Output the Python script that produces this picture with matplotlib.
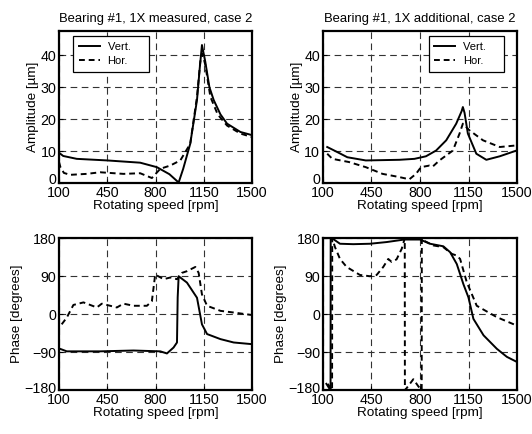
import matplotlib
matplotlib.use("Agg")
import matplotlib.pyplot as plt
import matplotlib.transforms as mtransforms

plt.rcParams['font.family'] = ['Liberation Sans', 'DejaVu Sans']

# --- amplitude, measured (top left) ---
amp_meas_v_rpm = [100, 130, 228, 450, 688, 809, 900, 967, 1000, 1051, 1100, 1120, 1136, 1160, 1190, 1221, 1270, 1318, 1415, 1500]
amp_meas_v = [9.5, 8.5, 7.6, 7.1, 6.4, 5.0, 2.8, 0.2, 4.5, 12.3, 26.0, 36.0, 43.2, 38.0, 30.0, 26.0, 21.5, 18.6, 16.0, 15.0]
amp_meas_h_rpm = [100, 110, 135, 180, 300, 398, 567, 688, 773, 834, 906, 979, 1051, 1100, 1124, 1140, 1160, 1197, 1250, 1318, 1415, 1500]
amp_meas_h = [6.6, 5.0, 3.2, 2.6, 2.9, 3.4, 2.9, 3.1, 1.6, 4.5, 5.5, 7.1, 12.3, 27.0, 38.0, 40.5, 37.0, 27.0, 21.5, 18.0, 15.5, 14.4]

# --- amplitude, additional (top right) ---
amp_add_v_rpm = [131, 200, 276, 409, 651, 760, 843, 916, 989, 1061, 1100, 1109, 1121, 1145, 1206, 1278, 1375, 1496]
amp_add_v = [11.3, 9.8, 8.1, 7.1, 7.3, 7.6, 8.4, 10.2, 13.4, 18.6, 22.5, 23.8, 22.0, 15.5, 9.2, 7.3, 8.4, 10.2]
amp_add_h_rpm = [131, 168, 288, 409, 530, 651, 723, 771, 807, 868, 892, 940, 1037, 1085, 1109, 1157, 1254, 1375, 1496]
amp_add_h = [9.2, 7.6, 6.6, 5.0, 2.9, 1.9, 1.2, 2.9, 5.0, 5.5, 5.2, 7.1, 10.2, 15.5, 18.6, 16.5, 13.4, 11.3, 11.8]

# --- phase, measured (bottom left) ---
ph_meas_v_rpm = [107, 156, 398, 640, 834, 882, 930, 955, 960, 967, 1027, 1100, 1136, 1173, 1270, 1366, 1500]
ph_meas_v = [-82, -88, -88, -86, -88, -93, -79, -67, 40, 90, 75, 39, -24, -47, -59, -67, -71]
ph_meas_h_rpm = [119, 156, 204, 277, 374, 410, 519, 567, 640, 737, 773, 797, 858, 906, 955, 991, 1027, 1088, 1112, 1136, 1173, 1270, 1366, 1500]
ph_meas_h = [-24, -8, 22, 28, 16, 25, 16, 25, 20, 20, 31, 94, 83, 87, 83, 98, 102, 112, 98, 47, 20, 8, 4, -2]

# --- phase, additional (bottom right), wraps at +/-180 ---
ph_add_v_rpm = [125, 150, 155, 156, 175, 223, 319, 439, 559, 687, 800, 872, 968, 1017, 1065, 1113, 1149, 1185, 1258, 1354, 1426, 1498]
ph_add_v = [-165, -178, -180, 180, 178, 167, 166, 167, 171, 177, 177, 167, 161, 147, 119, 71, 40, -11, -50, -82, -101, -113]
ph_add_h_rpm = [135, 160, 166, 167, 187, 223, 271, 367, 439, 487, 535, 571, 595, 631, 668, 690, 691, 704, 752, 788, 812, 813, 824, 896, 968, 1029, 1065, 1089, 1137, 1209, 1354, 1498]
ph_add_h = [-165, -178, -180, 180, 159, 131, 112, 93, 90, 93, 112, 131, 124, 130, 155, 180, -180, -175, -154, -171, -180, 180, 175, 163, 159, 143, 139, 131, 76, 20, -7, -27]

rpm_ticks = [100, 450, 800, 1150, 1500]
amp_ticks = [0, 10, 20, 30, 40]
phase_ticks = [-180, -90, 0, 90, 180]

titles = ["Bearing #1, 1X measured, case 2", "Bearing #1, 1X additional, case 2"]


def style_axes(ax):
    ax.set_xlim(100, 1500)
    ax.set_xticks(rpm_ticks)
    ax.set_xlabel("Rotating speed [rpm]", fontsize=9.7, labelpad=0)
    ax.grid(True, color='0.2', linestyle=(0, (6, 4)), linewidth=0.8)
    ax.tick_params(direction='in', length=3, labelsize=10.3, pad=2, width=0.8)
    for s in ax.spines.values():
        s.set_linewidth(1.6)


def lift_bottom_label(ax, px):
    # nudge the lowest y tick label up so it clears the first x tick label
    fig.canvas.draw()
    lab = ax.get_yticklabels()[0]
    lab.set_transform(lab.get_transform() +
                      mtransforms.ScaledTranslation(0, px / 100, fig.dpi_scale_trans))


fig = plt.figure(figsize=(5.32, 4.34), dpi=100)
ax1 = fig.add_axes([0.111, 0.578, 0.363, 0.350])
ax2 = fig.add_axes([0.607, 0.578, 0.365, 0.350])
ax3 = fig.add_axes([0.111, 0.101, 0.363, 0.350])
ax4 = fig.add_axes([0.607, 0.101, 0.365, 0.350])

ax1.plot(amp_meas_v_rpm, amp_meas_v, 'k-', lw=1.4, label="Vert.    ")
ax1.plot(amp_meas_h_rpm, amp_meas_h, 'k--', lw=1.4, dashes=(3, 2), label="Hor.")
ax2.plot(amp_add_v_rpm, amp_add_v, 'k-', lw=1.4, label="Vert.    ")
ax2.plot(amp_add_h_rpm, amp_add_h, 'k--', lw=1.4, dashes=(3, 2), label="Hor.")
ax3.plot(ph_meas_v_rpm, ph_meas_v, 'k-', lw=1.4)
ax3.plot(ph_meas_h_rpm, ph_meas_h, 'k--', lw=1.4, dashes=(3, 2))
ax4.plot(ph_add_v_rpm, ph_add_v, 'k-', lw=1.4)
ax4.plot(ph_add_h_rpm, ph_add_h, 'k--', lw=1.4, dashes=(3, 2))

for ax, t, loc, anchor in [(ax1, titles[0], 'upper left', (0.073, 0.967)),
                           (ax2, titles[1], 'upper right', (0.933, 0.967))]:
    style_axes(ax)
    ax.set_ylim(0, 47.5)
    ax.set_yticks(amp_ticks)
    ax.set_ylabel("Amplitude [µm]", fontsize=9.7, labelpad=1)
    ax.set_title(t, fontsize=9.4, pad=7)
    leg = ax.legend(loc=loc, bbox_to_anchor=anchor, fontsize=8, frameon=True,
                    fancybox=False, handlelength=1.9, handletextpad=0.7,
                    labelspacing=0.4, borderpad=0.5, borderaxespad=0, framealpha=1)
    leg.get_frame().set_edgecolor('black')
    leg.get_frame().set_linewidth(0.9)

for ax in (ax3, ax4):
    style_axes(ax)
    ax.set_ylim(-180, 180)
    ax.set_yticks(phase_ticks)
    ax.set_ylabel("Phase [degrees]", fontsize=9.7, labelpad=1)

for ax in (ax1, ax2):
    lift_bottom_label(ax, 5)
for ax in (ax3, ax4):
    lift_bottom_label(ax, 3)

fig.savefig("out.png", dpi=100)
